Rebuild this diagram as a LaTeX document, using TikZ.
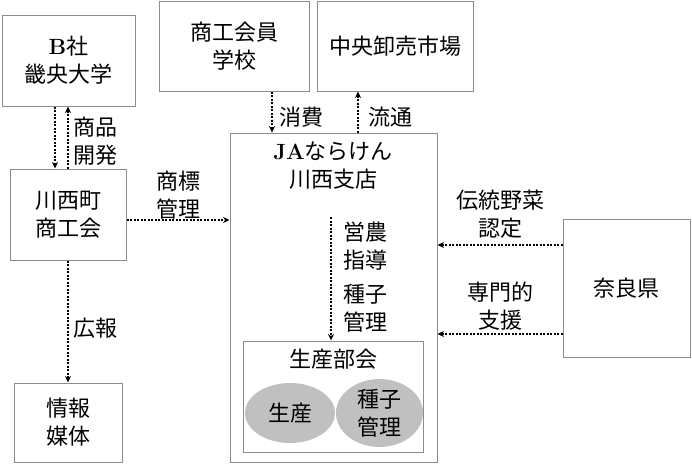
\documentclass[tikz,border=0pt]{standalone}
\usepackage{fontspec}
\newfontfamily\cjk{Noto Sans CJK JP}
\usetikzlibrary{arrows.meta}
\definecolor{boxgray}{HTML}{8C8C8C}
\definecolor{ellgray}{HTML}{C0C0C0}
\tikzset{
  txt/.style={font=\cjk\fontsize{22}{28}\selectfont, align=center, inner sep=0pt, text=black},
  box/.style={txt, draw=boxgray, line width=1pt},
  ell/.style={txt, ellipse, fill=ellgray, draw=none},
  arr/.style={dash pattern=on 2pt off 1.5pt, line width=2pt, -{Stealth[length=6.5pt,width=6pt]}},
  lbl/.style={txt, align=left},
}
\usetikzlibrary{shapes.geometric}
\begin{document}
\begin{tikzpicture}[x=1pt,y=-1pt]
\useasboundingbox (0,0) rectangle (692,463);
% boxes
\node[box, minimum width=133pt, minimum height=91pt] (bsha) at (68.5,60.5) {{\rmfamily\bfseries B}社\\畿央大学};
\node[box, minimum width=150pt, minimum height=90pt] (gakko) at (234,46) {商工会員\\学校};
\node[box, minimum width=156pt, minimum height=90pt] (chuo) at (395,46) {中央卸売市場};
\node[box, minimum width=116pt, minimum height=91pt] (kawa) at (68,214.5) {川西町\\商工会};
\node[box, minimum width=108pt, minimum height=79pt] (joho) at (68,422.5) {情報\\媒体};
\node[box, minimum width=207pt, minimum height=329pt] (ja) at (333.5,297.5) {};
\node[txt] (jatitle) at (333,166) {{\rmfamily\bfseries JA}ならけん\\川西支店};
\node[box, minimum width=180pt, minimum height=111pt] (bukai) at (333,396.5) {};
\node[txt] (bukaititle) at (333,359) {生産部会};
\node[ell, minimum width=90pt, minimum height=60pt] (seisan) at (290,413) {生産};
\node[ell, minimum width=87pt, minimum height=60pt] (shushi) at (379.5,413) {種子\\管理};
\node[box, minimum width=127pt, minimum height=138pt] (nara) at (626.5,288) {奈良県};
% arrows
\draw[arr] ([xshift=-13.5pt]bsha.south) -- ([xshift=-13.5pt]bsha.south |- kawa.north);
\draw[arr] ([xshift=-0.5pt]bsha.south |- kawa.north) -- ([xshift=-0.5pt]bsha.south);
\node[lbl, anchor=west] (l1) at (73,141) {商品\\開発};
\draw[arr] ([yshift=-5.5pt]kawa.east) -- ([yshift=-5.5pt]kawa.east -| ja.west);
\node[txt] (l2) at (178.5,195) {商標\\管理};
\draw[arr] (kawa.south) -- (joho.north);
\node[lbl, anchor=west] (l3) at (73,328) {広報};
\draw[arr] ([xshift=38pt]gakko.south) -- ([xshift=38pt]gakko.south |- ja.north);
\node[lbl, anchor=west] (l4) at (279,117) {消費};
\draw[arr] ([xshift=24.5pt]ja.north) -- ([xshift=24.5pt]ja.north |- chuo.south);
\node[lbl, anchor=west] (l5) at (368,117) {流通};
\coordinate (eistart) at (331,217);
\draw[arr] (eistart) -- (eistart |- bukai.north);
\node[lbl, anchor=west] (l6) at (343,246) {営農\\指導};
\node[lbl, anchor=west] (l7) at (343,308.5) {種子\\管理};
\draw[arr] ([yshift=43pt]nara.west) -- ([yshift=43pt]nara.west -| ja.east);
\node[txt] (l8) at (500,214) {伝統野菜\\認定};
\draw[arr] ([yshift=-46pt]nara.west) -- ([yshift=-46pt]nara.west -| ja.east);
\node[txt] (l9) at (500,306) {専門的\\支援};
\end{tikzpicture}
\end{document}
